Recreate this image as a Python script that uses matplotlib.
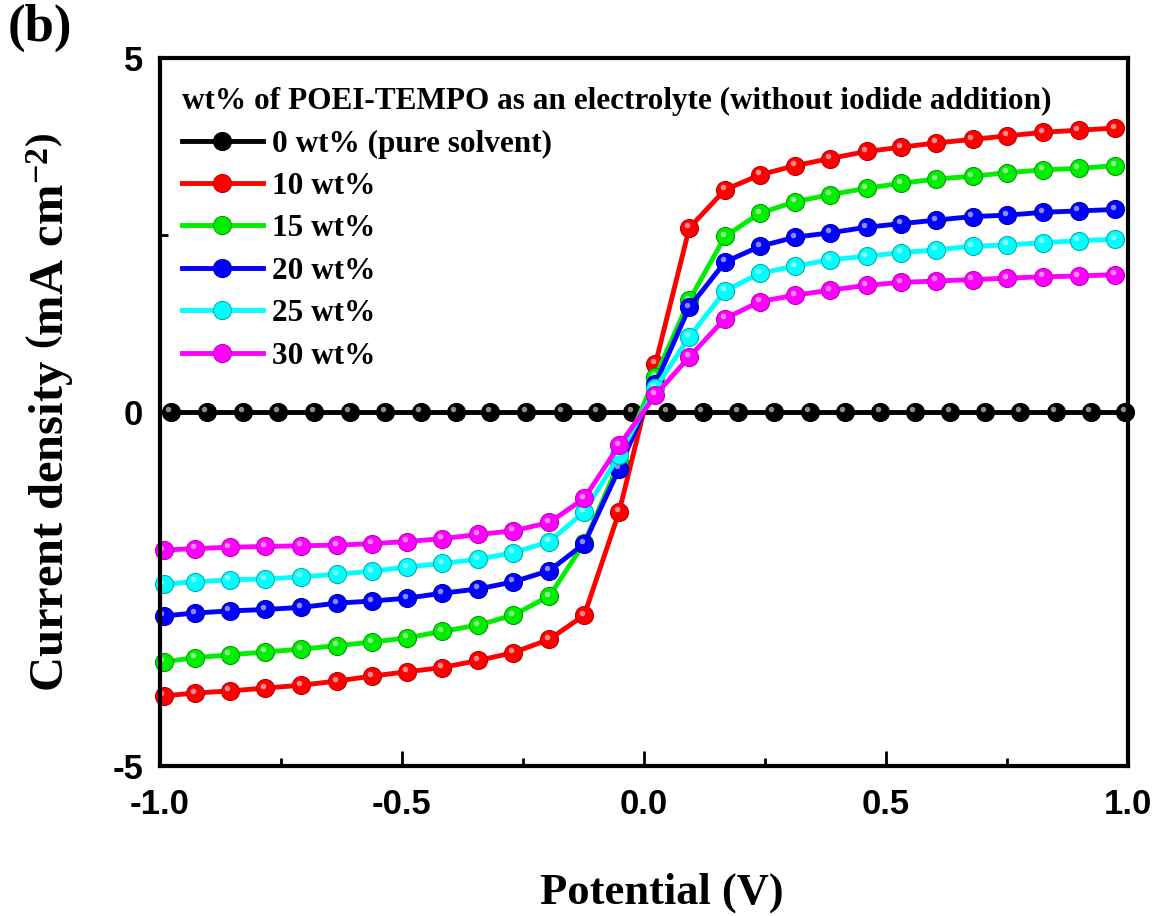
import numpy as np
import matplotlib
matplotlib.use("Agg")
import matplotlib.pyplot as plt
from matplotlib.transforms import offset_copy
from matplotlib.ticker import MultipleLocator

plt.rcParams['mathtext.fontset'] = 'custom'
plt.rcParams['mathtext.rm'] = 'Liberation Serif:bold'
plt.rcParams['mathtext.bf'] = 'Liberation Serif:bold'
plt.rcParams['mathtext.it'] = 'Liberation Serif:bold'

# potential (V) of the measured points
potential = [-0.992, -0.927, -0.855, -0.782, -0.708, -0.633, -0.561, -0.489, -0.417, -0.342,
             -0.270, -0.195, -0.123, -0.051, 0.024, 0.094, 0.168, 0.240, 0.313, 0.385,
             0.460, 0.532, 0.604, 0.679, 0.751, 0.825, 0.898, 0.974]
potential_solvent = [-0.977, -0.903, -0.828, -0.755, -0.681, -0.608, -0.534, -0.461, -0.389, -0.317,
                     -0.243, -0.168, -0.096, -0.024, 0.048, 0.122, 0.195, 0.268, 0.343, 0.415,
                     0.488, 0.560, 0.633, 0.705, 0.778, 0.851, 0.923, 0.995]

# current density (mA cm-2)
j_0 = [0.0, 0.0, 0.0, 0.0, 0.0, 0.0, 0.0, 0.0, 0.0, 0.0, 0.0, 0.0, 0.0, 0.0,
       0.0, 0.0, 0.0, 0.0, 0.0, 0.0, 0.0, 0.0, 0.0, 0.0, 0.0, 0.0, 0.0, 0.0]
j_10 = [-4.01, -3.97, -3.94, -3.90, -3.86, -3.80, -3.73, -3.67, -3.61, -3.51, -3.40, -3.21, -2.87, -1.41,
        0.68, 2.60, 3.14, 3.35, 3.48, 3.58, 3.68, 3.74, 3.80, 3.85, 3.90, 3.95, 3.98, 4.01]
j_15 = [-3.53, -3.47, -3.43, -3.39, -3.35, -3.30, -3.25, -3.19, -3.10, -3.01, -2.87, -2.60, -1.85, -0.71,
        0.50, 1.58, 2.48, 2.81, 2.97, 3.07, 3.16, 3.23, 3.29, 3.33, 3.38, 3.42, 3.44, 3.48]
j_20 = [-2.88, -2.84, -2.81, -2.79, -2.76, -2.70, -2.67, -2.63, -2.56, -2.50, -2.40, -2.24, -1.86, -0.80,
        0.40, 1.48, 2.12, 2.34, 2.47, 2.53, 2.61, 2.66, 2.71, 2.76, 2.78, 2.82, 2.84, 2.86]
j_25 = [-2.43, -2.40, -2.37, -2.36, -2.33, -2.29, -2.25, -2.19, -2.14, -2.08, -1.99, -1.83, -1.41, -0.61,
        0.34, 1.06, 1.71, 1.96, 2.06, 2.15, 2.20, 2.25, 2.29, 2.34, 2.36, 2.39, 2.42, 2.44]
j_30 = [-1.95, -1.93, -1.91, -1.90, -1.89, -1.88, -1.86, -1.83, -1.79, -1.73, -1.68, -1.56, -1.22, -0.47,
        0.24, 0.78, 1.32, 1.56, 1.65, 1.72, 1.79, 1.83, 1.85, 1.87, 1.89, 1.91, 1.92, 1.94]

labels = ["0 wt% (pure solvent)", "10 wt%", "15 wt%", "20 wt%", "25 wt%", "30 wt%"]
colors = ["#000000", "#ff0000", "#00ee00", "#0000ff", "#00ffff", "#ff00ff"]
edges = ["#000000", "#c00000", "#00a000", "#0000b0", "#00b0b0", "#c000c0"]

series = [(potential_solvent, j_0), (potential, j_10), (potential, j_15),
          (potential, j_20), (potential, j_25), (potential, j_30)]

fig = plt.figure(figsize=(11.58, 9.16), dpi=100)
ax = fig.add_axes([0.138, 0.1638, 0.836, 0.7729])

glint = offset_copy(ax.transData, fig=fig, x=-2.5, y=2.5, units='dots')
handles = []
for (xs, ys), lab, c, ec in zip(series, labels, colors, edges):
    ln, = ax.plot(xs, ys, '-o', color=c, lw=3.5, ms=13, mfc=c, mec=ec, mew=0.8,
                  label=lab, clip_on=False)
    ax.plot(xs, ys, 'o', ms=4, color='white', alpha=0.55, mew=0, transform=glint, clip_on=False)
    handles.append(ln)

ax.set_xlim(-1.0, 1.0)
ax.set_ylim(-5, 5)
ax.xaxis.set_minor_locator(MultipleLocator(0.25))
ax.yaxis.set_minor_locator(MultipleLocator(2.5))
ax.set_xticks([-1.0, -0.5, 0.0, 0.5, 1.0])
ax.set_xticklabels(["-1.0", "-0.5", "0.0", "0.5", "1.0"])
ax.set_yticks([-5, 0, 5])
ax.set_yticklabels(["-5", "0", "5"])

for sp in ax.spines.values():
    sp.set_linewidth(3)
ax.tick_params(which='major', direction='in', length=11, width=2, pad=12,
               labelsize=25)
ax.tick_params(axis='x', which='major', pad=16)
ax.tick_params(which='minor', direction='in', length=6, width=2)
for t in ax.get_xticklabels() + ax.get_yticklabels():
    t.set_family('Liberation Sans')
    t.set_weight('bold')

ax.set_xlabel("Potential (V)", fontsize=32, fontweight='bold', family='Liberation Serif')
ax.xaxis.set_label_coords(0.519, -0.179)
ax.xaxis.label.set_va('center')
ax.set_ylabel(r"Current density $\left(\mathbf{mA\ cm^{-2}}\right)$", fontsize=35,
              fontweight='bold', family='Liberation Serif', labelpad=26)

leg = ax.legend(handles=handles, loc='upper left', bbox_to_anchor=(0.0, 0.99),
                frameon=False, numpoints=1, handlelength=2.6, handletextpad=0.3,
                labelspacing=0.43, borderaxespad=0.3,
                prop={'family': 'Liberation Serif', 'weight': 'bold', 'size': 22.5},
                title="wt% of POEI-TEMPO as an electrolyte (without iodide addition)",
                title_fontproperties={'family': 'Liberation Serif', 'weight': 'bold', 'size': 22.5},
                alignment='left')

fig.text(0.007, 0.996, "(b)", fontsize=38, fontweight='bold', family='Liberation Serif',
         ha='left', va='top')

fig.savefig("out.png", dpi=100)
